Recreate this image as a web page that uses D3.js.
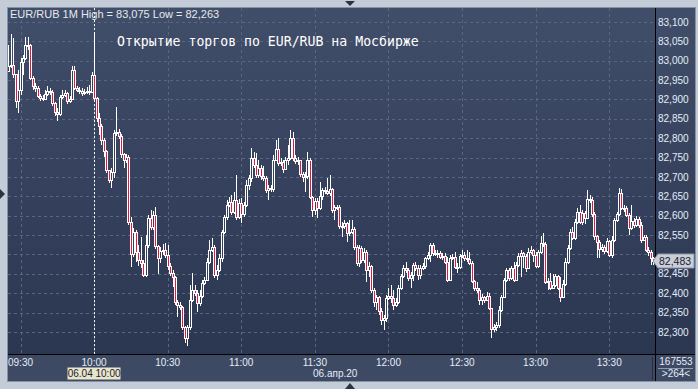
<!DOCTYPE html>
<html>
<head>
<meta charset="utf-8">
<script src="https://cdnjs.cloudflare.com/ajax/libs/d3/7.8.5/d3.min.js"></script>
<style>
  body { margin: 0; background: #c4ccd7; overflow: hidden; }
  text { font-family: "Liberation Sans", Arial, sans-serif; }
  text.caption { font-family: "DejaVu Sans Mono", monospace; }
</style>
</head>
<body>
<div id="chart"></div>
<script>

const WIDTH = 698;
const HEIGHT = 389;

// Plot frame (price axis on the right, time band at the bottom).
const PLOT = {'left': 8, 'top': 8, 'right': 655, 'bottom': 355};
const AXIS_RIGHT = 695;
const BAND_BOTTOM = 381;

const SYMBOL = "EUR/RUB 1M";
const TITLE = "Открытие торгов по EUR/RUB на Мосбирже";
const DATE_LABEL = "06.апр.20";
const CURSOR_LABEL = "06.04 10:00";
const VOLUME_LABEL = "167553";
const BARS_LABEL = ">264<";

// 1-minute bars, first one at 09:25 on 06.04.2020.
const FIRST_BAR = new Date(2020, 3, 6, 9, 25);
const CURSOR_TIME = new Date(2020, 3, 6, 10, 0);
const FIRST_OPEN = 82.975;

const closes = [
  82.987, 82.989, 82.966, 82.896, 82.925, 82.997, 83.007, 83.041, 83.041, 82.956,
  82.935, 82.930, 82.909, 82.904, 82.902, 82.915, 82.922, 82.920, 82.891, 82.868,
  82.863, 82.907, 82.912, 82.917, 82.896, 82.902, 82.976, 82.930, 82.925, 82.922,
  82.917, 82.920, 82.922, 82.920, 82.963, 82.904, 82.853, 82.832, 82.796, 82.767,
  82.718, 82.693, 82.713, 82.814, 82.816, 82.806, 82.760, 82.744, 82.752, 82.584,
  82.502, 82.558, 82.507, 82.486, 82.479, 82.448, 82.525, 82.595, 82.571, 82.602,
  82.522, 82.491, 82.509, 82.512, 82.499, 82.471, 82.453, 82.442, 82.378, 82.370,
  82.365, 82.313, 82.285, 82.313, 82.383, 82.409, 82.401, 82.375, 82.393, 82.427,
  82.435, 82.481, 82.512, 82.520, 82.448, 82.460, 82.491, 82.558, 82.597, 82.628,
  82.636, 82.610, 82.641, 82.597, 82.633, 82.605, 82.628, 82.680, 82.698, 82.749,
  82.731, 82.705, 82.724, 82.703, 82.698, 82.667, 82.672, 82.669, 82.744, 82.773,
  82.736, 82.739, 82.721, 82.744, 82.749, 82.801, 82.749, 82.742, 82.744, 82.708,
  82.700, 82.703, 82.744, 82.649, 82.615, 82.638, 82.620, 82.651, 82.667, 82.664,
  82.659, 82.669, 82.615, 82.623, 82.623, 82.574, 82.574, 82.582, 82.556, 82.558,
  82.566, 82.520, 82.479, 82.517, 82.486, 82.507, 82.460, 82.471, 82.409, 82.378,
  82.391, 82.355, 82.331, 82.337, 82.388, 82.393, 82.388, 82.370, 82.378, 82.414,
  82.445, 82.466, 82.460, 82.440, 82.448, 82.473, 82.466, 82.448, 82.466, 82.471,
  82.491, 82.499, 82.525, 82.504, 82.504, 82.504, 82.494, 82.497, 82.481, 82.435,
  82.491, 82.494, 82.468, 82.468, 82.497, 82.499, 82.491, 82.489, 82.479, 82.432,
  82.414, 82.409, 82.383, 82.391, 82.383, 82.393, 82.362, 82.308, 82.313, 82.318,
  82.357, 82.391, 82.435, 82.460, 82.440, 82.466, 82.435, 82.473, 82.497, 82.504,
  82.497, 82.466, 82.507, 82.512, 82.499, 82.471, 82.507, 82.530, 82.527, 82.429,
  82.432, 82.414, 82.422, 82.445, 82.414, 82.391, 82.424, 82.481, 82.517, 82.558,
  82.543, 82.584, 82.610, 82.584, 82.607, 82.595, 82.644, 82.641, 82.605, 82.548,
  82.533, 82.515, 82.520, 82.509, 82.535, 82.499, 82.538, 82.589, 82.605, 82.659,
  82.620, 82.620, 82.602, 82.569, 82.587, 82.577, 82.592, 82.577, 82.538, 82.546,
  82.512, 82.507, 82.491, 82.483
];

const highs = [
  83.041, 83.069, 83.059, 82.966, 82.976, 83.007, 83.015, 83.062, 83.062, 83.043,
  82.961, 82.943, 82.935, 82.915, 82.912, 82.925, 82.935, 82.930, 82.925, 82.894,
  82.878, 82.912, 82.925, 82.925, 82.920, 82.909, 82.987, 82.987, 82.935, 82.933,
  82.930, 82.927, 82.933, 82.938, 82.971, 83.075, 82.907, 82.865, 82.837, 82.801,
  82.770, 82.718, 82.724, 82.822, 82.881, 82.824, 82.811, 82.762, 82.760, 82.757,
  82.597, 82.569, 82.564, 82.525, 82.546, 82.486, 82.551, 82.602, 82.615, 82.613,
  82.623, 82.525, 82.520, 82.527, 82.530, 82.525, 82.479, 82.460, 82.445, 82.383,
  82.378, 82.368, 82.316, 82.318, 82.422, 82.453, 82.422, 82.409, 82.409, 82.435,
  82.442, 82.491, 82.538, 82.543, 82.525, 82.473, 82.502, 82.564, 82.602, 82.641,
  82.649, 82.654, 82.662, 82.705, 82.644, 82.646, 82.636, 82.693, 82.705, 82.775,
  82.765, 82.762, 82.744, 82.731, 82.729, 82.703, 82.680, 82.680, 82.757, 82.796,
  82.801, 82.749, 82.744, 82.752, 82.783, 82.822, 82.816, 82.757, 82.752, 82.744,
  82.713, 82.713, 82.765, 82.749, 82.651, 82.646, 82.646, 82.687, 82.672, 82.675,
  82.698, 82.705, 82.672, 82.628, 82.628, 82.628, 82.584, 82.589, 82.584, 82.589,
  82.589, 82.571, 82.525, 82.525, 82.522, 82.517, 82.512, 82.481, 82.473, 82.414,
  82.396, 82.393, 82.362, 82.344, 82.396, 82.414, 82.422, 82.409, 82.388, 82.422,
  82.450, 82.473, 82.481, 82.466, 82.455, 82.479, 82.481, 82.473, 82.473, 82.479,
  82.494, 82.507, 82.530, 82.530, 82.512, 82.512, 82.509, 82.504, 82.504, 82.494,
  82.499, 82.502, 82.507, 82.479, 82.502, 82.512, 82.507, 82.512, 82.507, 82.484,
  82.435, 82.429, 82.414, 82.399, 82.393, 82.404, 82.401, 82.362, 82.321, 82.326,
  82.368, 82.396, 82.440, 82.466, 82.466, 82.471, 82.481, 82.481, 82.504, 82.512,
  82.507, 82.502, 82.517, 82.522, 82.515, 82.507, 82.512, 82.548, 82.556, 82.533,
  82.440, 82.453, 82.450, 82.450, 82.448, 82.442, 82.435, 82.491, 82.525, 82.566,
  82.571, 82.592, 82.620, 82.628, 82.615, 82.613, 82.667, 82.654, 82.649, 82.610,
  82.551, 82.538, 82.527, 82.525, 82.543, 82.538, 82.548, 82.595, 82.610, 82.672,
  82.669, 82.628, 82.626, 82.607, 82.628, 82.595, 82.600, 82.597, 82.584, 82.551,
  82.551, 82.520, 82.512, 82.494
];

const lows = [
  82.976, 82.982, 82.956, 82.878, 82.865, 82.912, 82.963, 83.002, 83.028, 82.951,
  82.925, 82.920, 82.904, 82.896, 82.896, 82.899, 82.909, 82.912, 82.884, 82.858,
  82.845, 82.858, 82.902, 82.907, 82.889, 82.891, 82.899, 82.925, 82.920, 82.915,
  82.909, 82.912, 82.915, 82.912, 82.917, 82.899, 82.842, 82.809, 82.783, 82.752,
  82.711, 82.685, 82.672, 82.698, 82.806, 82.798, 82.749, 82.724, 82.736, 82.577,
  82.468, 82.494, 82.481, 82.471, 82.466, 82.442, 82.442, 82.517, 82.564, 82.564,
  82.515, 82.450, 82.479, 82.499, 82.491, 82.460, 82.445, 82.417, 82.370, 82.339,
  82.357, 82.306, 82.272, 82.263, 82.306, 82.378, 82.393, 82.352, 82.368, 82.388,
  82.422, 82.432, 82.476, 82.507, 82.440, 82.435, 82.455, 82.481, 82.553, 82.589,
  82.623, 82.602, 82.605, 82.589, 82.592, 82.582, 82.597, 82.623, 82.667, 82.687,
  82.724, 82.698, 82.698, 82.693, 82.690, 82.659, 82.641, 82.662, 82.662, 82.762,
  82.729, 82.729, 82.711, 82.718, 82.731, 82.744, 82.742, 82.734, 82.731, 82.700,
  82.687, 82.662, 82.695, 82.644, 82.597, 82.602, 82.595, 82.615, 82.641, 82.656,
  82.654, 82.651, 82.607, 82.589, 82.615, 82.566, 82.546, 82.566, 82.533, 82.548,
  82.553, 82.512, 82.471, 82.468, 82.479, 82.479, 82.429, 82.442, 82.401, 82.365,
  82.357, 82.344, 82.318, 82.306, 82.326, 82.383, 82.375, 82.357, 82.365, 82.373,
  82.409, 82.440, 82.453, 82.432, 82.414, 82.432, 82.458, 82.435, 82.437, 82.460,
  82.463, 82.486, 82.481, 82.497, 82.497, 82.491, 82.489, 82.486, 82.476, 82.429,
  82.432, 82.486, 82.463, 82.453, 82.463, 82.491, 82.484, 82.481, 82.473, 82.427,
  82.406, 82.401, 82.370, 82.370, 82.375, 82.380, 82.357, 82.285, 82.300, 82.303,
  82.311, 82.352, 82.388, 82.429, 82.432, 82.435, 82.429, 82.432, 82.468, 82.442,
  82.466, 82.455, 82.463, 82.502, 82.481, 82.466, 82.466, 82.502, 82.520, 82.424,
  82.409, 82.409, 82.411, 82.417, 82.409, 82.378, 82.388, 82.419, 82.476, 82.512,
  82.538, 82.538, 82.579, 82.579, 82.577, 82.579, 82.592, 82.633, 82.597, 82.538,
  82.491, 82.491, 82.507, 82.502, 82.504, 82.494, 82.491, 82.533, 82.584, 82.600,
  82.615, 82.610, 82.597, 82.551, 82.564, 82.569, 82.571, 82.569, 82.530, 82.535,
  82.507, 82.497, 82.473, 82.473
];

// Price ticks every 0.05, time ticks every 30 minutes.
const priceTicks = [82.30, 82.35, 82.40, 82.45, 82.50, 82.55, 82.60, 82.65, 82.70,
                    82.75, 82.80, 82.85, 82.90, 82.95, 83.00, 83.05, 83.10];
const timeTicks = ["09:30", "10:00", "10:30", "11:00", "11:30", "12:00", "12:30", "13:00", "13:30"];


window.onload = function() {

    var parseTime = d3.timeParse("%Y-%m-%d %H:%M");
    var fmtPrice = function(v) { return d3.format(".3f")(v).replace(".", ","); };

    // bars: open is the close of the previous minute
    var bars = closes.map(function(c, i) {
        return {
            'time': d3.timeMinute.offset(FIRST_BAR, i),
            'open': i == 0 ? FIRST_OPEN : closes[i - 1],
            'close': c,
            'high': highs[i],
            'low': lows[i]
        };
    });

    var tickDates = timeTicks.map(function(t) { return parseTime("2020-04-06 " + t); });

    var x = d3.scaleTime()
              .domain([tickDates[0], tickDates[tickDates.length - 1]])
              .range([20.5, 609.2]);

    var y = d3.scaleLinear()
              .domain([82.30, 83.10])
              .range([332, 22]);

    var svg = d3.select("#chart").append("svg")
                .attr("width", WIDTH)
                .attr("height", HEIGHT);

    var defs = svg.append("defs");
    var grad = defs.append("linearGradient")
                   .attr("id", "bg")
                   .attr("x1", 0).attr("y1", 0).attr("x2", 0).attr("y2", 1);
    grad.append("stop").attr("offset", "0%").attr("stop-color", "#414e69");
    grad.append("stop").attr("offset", "100%").attr("stop-color", "#2b3651");

    defs.append("clipPath").attr("id", "plotclip")
        .append("rect")
        .attr("x", PLOT.left).attr("y", PLOT.top)
        .attr("width", PLOT.right - PLOT.left).attr("height", PLOT.bottom - PLOT.top);

    // outer frame
    svg.append("rect")
       .attr("width", WIDTH).attr("height", HEIGHT)
       .attr("fill", "#c4ccd7");

    // chart + price axis background
    svg.append("rect")
       .attr("x", PLOT.left).attr("y", PLOT.top)
       .attr("width", AXIS_RIGHT - PLOT.left).attr("height", PLOT.bottom - PLOT.top)
       .attr("fill", "url(#bg)");

    // time band
    svg.append("rect")
       .attr("x", PLOT.left).attr("y", PLOT.bottom)
       .attr("width", AXIS_RIGHT - PLOT.left).attr("height", BAND_BOTTOM - PLOT.bottom)
       .attr("fill", "#3e4a64");

    svg.append("rect")
       .attr("x", PLOT.left - 0.5).attr("y", PLOT.top - 0.5)
       .attr("width", AXIS_RIGHT - PLOT.left + 1).attr("height", BAND_BOTTOM - PLOT.top + 1)
       .attr("fill", "none")
       .attr("stroke", "#8692a6");

    // grid
    var grid = svg.append("g").attr("class", "grid").attr("shape-rendering", "crispEdges");

    grid.selectAll(".hgrid")
        .data(priceTicks)
        .enter()
        .append("line")
        .attr("x1", PLOT.left).attr("x2", PLOT.right)
        .attr("y1", function(d) { return Math.round(y(d)) + 0.5; })
        .attr("y2", function(d) { return Math.round(y(d)) + 0.5; })
        .attr("stroke", "#5a6680")
        .attr("stroke-dasharray", "3,3");

    grid.selectAll(".vgrid")
        .data(tickDates)
        .enter()
        .append("line")
        .attr("x1", function(d) { return Math.round(x(d)) + 0.5; })
        .attr("x2", function(d) { return Math.round(x(d)) + 0.5; })
        .attr("y1", PLOT.top).attr("y2", PLOT.bottom)
        .attr("stroke", "#5a6680")
        .attr("stroke-dasharray", "3,3");

    // cursor line at 10:00
    svg.append("line")
       .attr("x1", Math.round(x(CURSOR_TIME)) + 0.5)
       .attr("x2", Math.round(x(CURSOR_TIME)) + 0.5)
       .attr("y1", PLOT.top).attr("y2", PLOT.bottom)
       .attr("stroke", "#f2f2f2")
       .attr("stroke-dasharray", "2,2")
       .attr("shape-rendering", "crispEdges");

    // candles
    var candles = svg.append("g")
                     .attr("clip-path", "url(#plotclip)")
                     .attr("shape-rendering", "crispEdges")
                     .selectAll("g")
                     .data(bars)
                     .enter()
                     .append("g");

    candles.append("line")
           .attr("x1", function(d) { return Math.round(x(d.time)) + 0.5; })
           .attr("x2", function(d) { return Math.round(x(d.time)) + 0.5; })
           .attr("y1", function(d) { return y(Math.max(d.high, d.open, d.close)); })
           .attr("y2", function(d) { return y(Math.min(d.low, d.open, d.close)); })
           .attr("stroke", "#ffffff");

    candles.append("rect")
           .attr("x", function(d) { return Math.round(x(d.time)) - 0.5; })
           .attr("width", 2)
           .attr("y", function(d) { return Math.round(y(Math.max(d.open, d.close))) + 0.5; })
           .attr("height", function(d) { return Math.max(1, Math.round(Math.abs(y(d.open) - y(d.close)))); })
           .attr("fill", function(d) { return d.close < d.open ? "#e5173f" : "#33405a"; })
           .attr("stroke", "#ffffff");

    // separators
    svg.append("line")
       .attr("x1", PLOT.right + 0.5).attr("x2", PLOT.right + 0.5)
       .attr("y1", PLOT.top).attr("y2", BAND_BOTTOM)
       .attr("stroke", "#000").attr("shape-rendering", "crispEdges");
    svg.append("line")
       .attr("x1", PLOT.left).attr("x2", AXIS_RIGHT)
       .attr("y1", PLOT.bottom - 0.5).attr("y2", PLOT.bottom - 0.5)
       .attr("stroke", "#000").attr("shape-rendering", "crispEdges");
    svg.append("line")
       .attr("x1", 652.5).attr("x2", 652.5)
       .attr("y1", PLOT.bottom + 2).attr("y2", BAND_BOTTOM - 1)
       .attr("stroke", "#262e3f").attr("shape-rendering", "crispEdges");

    // last price, hides the tick label behind its tag
    var last = bars[bars.length - 1].close;
    var ly = Math.round(y(last));

    // price axis labels
    svg.append("g")
       .selectAll("text")
       .data(priceTicks.filter(function(d) { return Math.abs(y(d) - ly) > 9; }))
       .enter()
       .append("text")
       .attr("x", 658)
       .attr("y", function(d) { return y(d) + 3.5; })
       .attr("font-size", "10px")
       .attr("fill", "#e4ecf8")
       .text(fmtPrice);

    // time axis labels
    var fmtTime = d3.timeFormat("%H:%M");
    svg.append("g")
       .selectAll("text")
       .data(tickDates)
       .enter()
       .append("text")
       .attr("x", function(d) { return x(d); })
       .attr("y", 366)
       .attr("text-anchor", "middle")
       .attr("font-size", "10px")
       .attr("fill", "#e4ecf8")
       .text(fmtTime);

    svg.append("text")
       .attr("x", 313).attr("y", 377)
       .attr("font-size", "10px")
       .attr("fill", "#e4ecf8")
       .text(DATE_LABEL);

    // cursor time tag
    var cx = x(CURSOR_TIME);
    svg.append("rect")
       .attr("x", Math.round(cx) - 26.5).attr("y", 367.5)
       .attr("width", 53).attr("height", 12)
       .attr("fill", "#e8e5cb");
    svg.append("text")
       .attr("x", cx).attr("y", 377)
       .attr("text-anchor", "middle")
       .attr("font-size", "10px")
       .attr("fill", "#1d2230")
       .text(CURSOR_LABEL);

    // bar count box
    svg.append("text")
       .attr("x", 676).attr("y", 365)
       .attr("text-anchor", "middle")
       .attr("font-size", "10px")
       .attr("fill", "#e4ecf8")
       .text(VOLUME_LABEL);
    svg.append("line")
       .attr("x1", 658).attr("x2", 693)
       .attr("y1", 368.5).attr("y2", 368.5)
       .attr("stroke", "#8e9ab0");
    svg.append("text")
       .attr("x", 676).attr("y", 377)
       .attr("text-anchor", "middle")
       .attr("font-size", "10px")
       .attr("fill", "#e4ecf8")
       .text(BARS_LABEL);

    // last price tag
    svg.append("path")
       .attr("d", "M653," + ly + " L658," + (ly - 7) + " L694," + (ly - 7) +
                  " L694," + (ly + 7) + " L658," + (ly + 7) + " Z")
       .attr("fill", "#c9ced7")
       .attr("stroke", "#8e97a6");
    svg.append("text")
       .attr("x", 659).attr("y", ly + 4)
       .attr("font-size", "10.5px")
       .attr("fill", "#1b2233")
       .text(fmtPrice(last));

    // header and caption
    svg.append("text")
       .attr("x", 10).attr("y", 18)
       .attr("font-size", "11px")
       .attr("fill", "#e6e9ef")
       .text(SYMBOL + " High = " + fmtPrice(d3.max(highs)) + " Low = " + fmtPrice(d3.min(lows)));

    svg.append("text")
       .attr("class", "caption")
       .attr("x", 117).attr("y", 46)
       .attr("font-size", "13.2px")
       .attr("fill", "#ffffff")
       .text(TITLE);

    // scroll arrows on the frame
    var arrow = "#2b3343";
    svg.append("path").attr("d", "M345,1 L355,1 L350,6 Z").attr("fill", arrow);
    svg.append("path").attr("d", "M345,389 L355,389 L350,383 Z").attr("fill", arrow);
    svg.append("path").attr("d", "M0,189 L0,199 L5,194 Z").attr("fill", arrow);
};

</script>
</body>
</html>
